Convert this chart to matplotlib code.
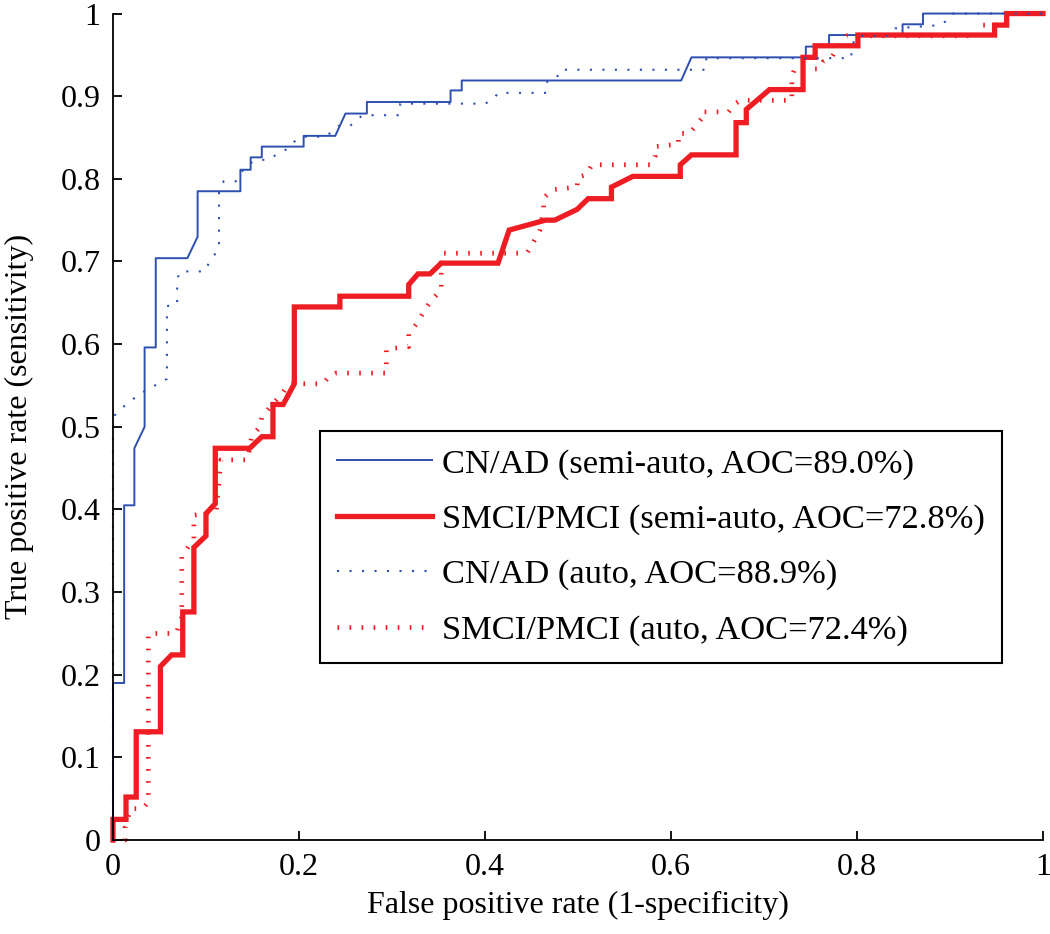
import matplotlib
matplotlib.use("Agg")
import matplotlib.pyplot as plt

# ROC curves (false positive rate, true positive rate)
cn_ad_semi_fpr = [0, 0, 0.012, 0.012, 0.023, 0.023, 0.034, 0.034, 0.046, 0.046, 0.080, 0.091,
                  0.091, 0.137, 0.137, 0.148, 0.148, 0.160, 0.160, 0.205, 0.205, 0.239, 0.250,
                  0.273, 0.273, 0.363, 0.363, 0.375, 0.375, 0.611, 0.622, 0.745, 0.745, 0.770,
                  0.770, 0.849, 0.849, 0.871, 0.871, 1.0]
cn_ad_semi_tpr = [0, 0.19, 0.19, 0.405, 0.405, 0.474, 0.50, 0.596, 0.596, 0.704, 0.704, 0.730,
                  0.785, 0.785, 0.811, 0.811, 0.826, 0.826, 0.839, 0.839, 0.852, 0.852, 0.879,
                  0.879, 0.893, 0.893, 0.907, 0.907, 0.919, 0.919, 0.947, 0.947, 0.96, 0.96,
                  0.974, 0.974, 0.987, 0.987, 1.0, 1.0]

smci_semi_fpr = [0, 0, 0.014, 0.014, 0.025, 0.025, 0.051, 0.051, 0.063, 0.075, 0.075, 0.087,
                 0.087, 0.100, 0.100, 0.110, 0.110, 0.147, 0.160, 0.172, 0.172, 0.183, 0.195,
                 0.195, 0.244, 0.244, 0.318, 0.318, 0.328, 0.341, 0.353, 0.414, 0.426, 0.465,
                 0.475, 0.499, 0.511, 0.536, 0.536, 0.559, 0.610, 0.610, 0.622, 0.670, 0.670,
                 0.681, 0.681, 0.706, 0.742, 0.742, 0.755, 0.755, 0.801, 0.801, 0.948, 0.948,
                 0.961, 0.961, 1.0]
smci_semi_tpr = [0, 0.025, 0.025, 0.052, 0.052, 0.131, 0.131, 0.21, 0.224, 0.224, 0.276, 0.276,
                 0.354, 0.368, 0.395, 0.407, 0.474, 0.474, 0.488, 0.488, 0.527, 0.527, 0.552,
                 0.645, 0.645, 0.658, 0.658, 0.672, 0.685, 0.685, 0.698, 0.698, 0.738, 0.750,
                 0.750, 0.763, 0.776, 0.776, 0.790, 0.803, 0.803, 0.817, 0.829, 0.829, 0.868,
                 0.868, 0.884, 0.908, 0.908, 0.947, 0.947, 0.961, 0.961, 0.974, 0.974, 0.986,
                 0.986, 1.0, 1.0]

cn_ad_auto_fpr = [0, 0, 0.013, 0.029, 0.050, 0.058, 0.058, 0.069, 0.069, 0.072, 0.099, 0.103,
                  0.114, 0.114, 0.119, 0.132, 0.137, 0.144, 0.155, 0.167, 0.178, 0.189, 0.195,
                  0.203, 0.229, 0.242, 0.255, 0.262, 0.269, 0.308, 0.309, 0.400, 0.409, 0.414,
                  0.466, 0.467, 0.477, 0.481, 0.637, 0.638, 0.794, 0.794, 0.800, 0.835, 0.841,
                  0.889, 0.896, 0.902, 1.0]
cn_ad_auto_tpr = [0, 0.512, 0.526, 0.540, 0.553, 0.558, 0.646, 0.648, 0.678, 0.688, 0.688, 0.698,
                  0.716, 0.786, 0.797, 0.797, 0.806, 0.817, 0.823, 0.823, 0.831, 0.837, 0.845,
                  0.851, 0.851, 0.864, 0.864, 0.872, 0.877, 0.877, 0.891, 0.891, 0.896, 0.904,
                  0.904, 0.918, 0.922, 0.932, 0.932, 0.946, 0.946, 0.960, 0.973, 0.973, 0.982,
                  0.986, 0.991, 1.0, 1.0]

smci_auto_fpr = [0, 0.013, 0.013, 0.019, 0.032, 0.038, 0.038, 0.068, 0.074, 0.074, 0.087, 0.087,
                 0.111, 0.116, 0.145, 0.149, 0.158, 0.160, 0.183, 0.189, 0.226, 0.233, 0.240,
                 0.294, 0.294, 0.318, 0.318, 0.328, 0.335, 0.341, 0.353, 0.353, 0.445, 0.450,
                 0.459, 0.463, 0.463, 0.473, 0.499, 0.500, 0.509, 0.515, 0.579, 0.583, 0.583,
                 0.608, 0.608, 0.620, 0.633, 0.633, 0.662, 0.669, 0.675, 0.730, 0.730, 0.733,
                 0.760, 0.764, 0.773, 0.778, 0.789, 0.930, 0.934, 0.960, 0.962, 1.0]
smci_auto_tpr = [0, 0, 0.015, 0.038, 0.038, 0.046, 0.25, 0.25, 0.27, 0.343, 0.365, 0.393,
                 0.397, 0.46, 0.46, 0.488, 0.50, 0.512, 0.542, 0.552, 0.552, 0.562, 0.565,
                 0.565, 0.594, 0.597, 0.612, 0.627, 0.641, 0.651, 0.666, 0.71, 0.71, 0.719,
                 0.738, 0.763, 0.777, 0.787, 0.79, 0.802, 0.805, 0.817, 0.817, 0.827, 0.839,
                 0.842, 0.855, 0.855, 0.873, 0.881, 0.881, 0.891, 0.895, 0.895, 0.924, 0.933,
                 0.933, 0.942, 0.947, 0.957, 0.973, 0.973, 0.986, 0.986, 1.0, 1.0]

labels = [
    "CN/AD (semi-auto, AOC=89.0%)",
    "SMCI/PMCI (semi-auto, AOC=72.8%)",
    "CN/AD (auto, AOC=88.9%)",
    "SMCI/PMCI (auto, AOC=72.4%)",
]

BLUE = "#2d4fb0"
RED = "#ee1d23"

plt.rcParams["font.family"] = ["Liberation Serif", "DejaVu Serif"]

fig = plt.figure(figsize=(10.5, 9.34), dpi=100)
ax = fig.add_axes([0.1076, 0.1006, 0.8857, 0.8849])

ax.plot(cn_ad_semi_fpr, cn_ad_semi_tpr, color=BLUE, lw=1.4, label=labels[0], clip_on=False)
ax.plot(smci_semi_fpr, smci_semi_tpr, color=RED, lw=3.8, label=labels[1], clip_on=False,
        solid_joinstyle="miter")
ax.plot(cn_ad_auto_fpr, cn_ad_auto_tpr, color=BLUE, lw=1.5, ls=(0, (1, 5.0)),
        label=labels[2], clip_on=False)
ax.plot(smci_auto_fpr, smci_auto_tpr, color=RED, lw=3.4, ls=(0, (0.35, 2.2)),
        dash_capstyle="butt", label=labels[3], clip_on=False)

ax.set_xlim(0, 1)
ax.set_ylim(0, 1)
ax.set_xticks([0, 0.2, 0.4, 0.6, 0.8, 1])
ax.set_xticklabels(["0", "0.2", "0.4", "0.6", "0.8", "1"])
ax.set_yticks([i / 10 for i in range(11)])
ax.set_yticklabels(["0"] + [f"{i / 10:.1f}" for i in range(1, 10)] + ["1"])

for side in ("top", "right"):
    ax.spines[side].set_visible(False)
for side in ("left", "bottom"):
    ax.spines[side].set_linewidth(1.3)
ax.tick_params(direction="in", length=6.5, width=1.3, labelsize=23, pad=9)

ax.set_xlabel("False positive rate (1-specificity)", fontsize=23)
ax.set_ylabel("True positive rate (sensitivity)", fontsize=23)
ax.xaxis.set_label_coords(0.5, -0.062)
ax.yaxis.set_label_coords(-0.085, 0.5)

leg = ax.legend(loc="upper left", bbox_to_anchor=(0.2226, 0.4949), borderaxespad=0,
                fontsize=24.8, frameon=True, fancybox=False, handlelength=2.75,
                handletextpad=0.3, labelspacing=0.7, borderpad=0.5)
leg.get_frame().set_edgecolor("black")
leg.get_frame().set_linewidth(1.5)
leg.get_frame().set_alpha(1)

fig.savefig("out.png", dpi=100)
